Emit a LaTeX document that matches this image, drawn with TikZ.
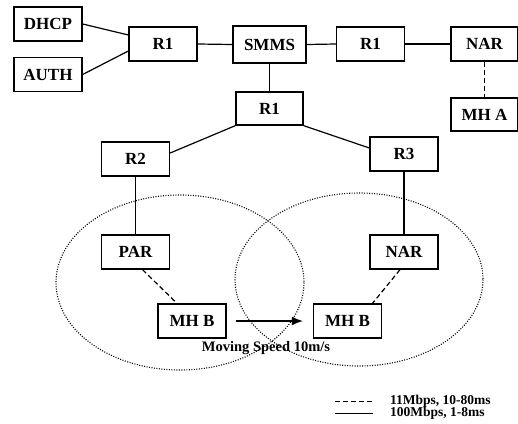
\documentclass[tikz,border=0pt]{standalone}
\usepackage{fontspec}
\setmainfont{Liberation Serif}
\usepackage{tikz}
\usetikzlibrary{arrows.meta,positioning}

\begin{document}
\begin{tikzpicture}[x=1pt, y=-1pt,
	box/.style={draw, line width=1.3pt, minimum width=68pt, minimum height=34pt, inner sep=0pt, font=\fontsize{17}{17}\selectfont\bfseries},
	wired/.style={line width=1.2pt},
	wireless/.style={line width=1.2pt, dash pattern=on 5pt off 3pt},
	cell/.style={line width=1.1pt, dash pattern=on 1pt off 1.5pt},
	legend/.style={anchor=west, inner sep=0pt, font=\fontsize{13.5}{13.5}\selectfont\bfseries}]
	\useasboundingbox (0,0) rectangle (518,423);
	% core network
	\node[box] (dhcp) at (48,24) {DHCP};
	\node[box] (auth) at (48,74.5) {AUTH};
	\node[box] (r1a) at (163,44) {R1};
	\node[box, minimum width=73pt, minimum height=37pt] (smms) at (269.5,44.5) {SMMS};
	\node[box] (r1b) at (370.5,44) {R1};
	\node[box, minimum width=67pt] (nar) at (484.5,44) {NAR};
	\node[box, minimum width=67pt, minimum height=33pt] (mha) at (484.5,114.5) {MH A};
	\node[box, minimum width=67pt, minimum height=33pt] (r1c) at (269.5,108.5) {R1};
	\node[box] (r2) at (135.5,159) {R2};
	\node[box] (r3) at (404,154) {R3};
	% access routers and mobile host
	\node[box] (par) at (135.5,252) {PAR};
	\node[box] (nar2) at (404,252) {NAR};
	\node[box] (mhb1) at (192,321) {MH B};
	\node[box] (mhb2) at (347.5,321) {MH B};
	\node[font=\fontsize{14.5}{14.5}\selectfont\bfseries, inner sep=0pt] (speed) at (266,348) {Moving Speed 10m/s};
	% coverage areas
	\draw[cell] (180,282.5) ellipse [x radius=124, y radius=87.5];
	\draw[cell] (359,279.5) ellipse [x radius=124, y radius=86.5];
	% links
	\draw[wired] (dhcp.east) -- ([yshift=9pt]r1a.west);
	\draw[wired] (auth.east) -- ([yshift=-7pt]r1a.west);
	\draw[wired] (r1a.east) -- (smms.west);
	\draw[wired] (smms.east) -- (r1b.west);
	\draw[wired] (r1b.east) -- (nar.west);
	\draw[wireless] (nar.south) -- (mha.north);
	\draw[wired] (smms.south) -- (r1c.north);
	\draw[wired] (r1c.south west) -- ([yshift=6pt]r2.east);
	\draw[wired] (r1c.south east) -- ([yshift=6pt]r3.west);
	\draw[wired] (r2.south) -- (par.north);
	\draw[wired] (r3.south) -- (nar2.north);
	\draw[wireless] ([xshift=7pt]par.south) -- ([xshift=-15pt]mhb1.north);
	\draw[wireless] ([xshift=-4pt]nar2.south) -- ([xshift=25pt]mhb2.north);
	\draw[line width=1.2pt, -{Latex[length=11pt, width=9pt]}] ([xshift=9pt]mhb1.east) -- ([xshift=-10pt]mhb2.west);
	% legend
	\node[legend] (leg1) at (390,401) {11Mbps, 10-80ms};
	\node[legend] (leg2) at (390,413) {100Mbps, 1-8ms};
	\coordinate (d1) at (335,401);
	\coordinate (s1) at (335,413);
	\draw[wireless, line width=1pt] (d1) -- ++(38,0);
	\draw[wired, line width=1pt] (s1) -- ++(38,0);
\end{tikzpicture}
\end{document}
